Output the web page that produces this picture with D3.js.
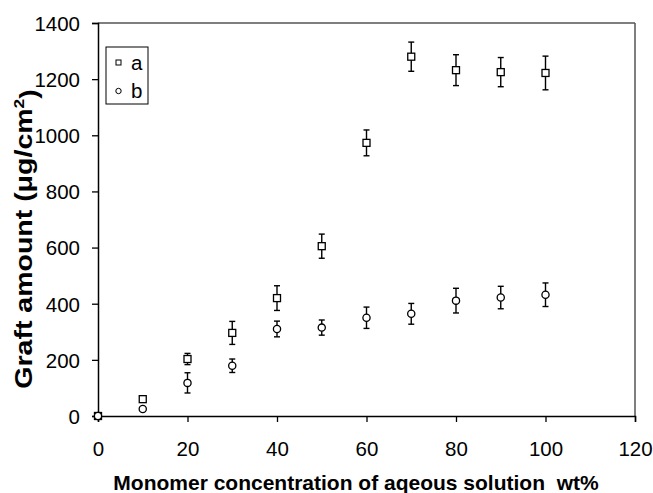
<!DOCTYPE html>
<html>
<head>
<meta charset="utf-8">
<script src="https://cdn.jsdelivr.net/npm/d3@7"></script>
<style>
  body { margin: 0; background: #fff; }
  svg text { font-family: "Liberation Sans", Arial, sans-serif; }
</style>
</head>
<body>
<div id="chart"></div>
<script>
// data
const concentrations = [0, 10, 20, 30, 40, 50, 60, 70, 80, 90, 100];
const graftA = [0, 60, 203, 296, 420, 605, 973, 1280, 1232, 1225, 1222];
const errA   = [0, 0, 20, 41, 44, 43, 46, 52, 55, 52, 60];
const graftB = [0, 25, 118, 179, 310, 315, 350, 364, 411, 422, 432];
const errB   = [0, 0, 36, 24, 28, 27, 38, 37, 44, 40, 42];
const xTicks = [0, 20, 40, 60, 80, 100, 120];
const yTicks = [0, 200, 400, 600, 800, 1000, 1200, 1400];

const svg_width = 653;
const svg_height = 493;
const plotLeft = 98, plotRight = 635, plotTop = 23, plotBottom = 416;

let svg = d3.select("#chart")
  .append("svg")
    .attr("width", svg_width)
    .attr("height", svg_height)

const x = d3.scaleLinear().domain([0, 120]).range([plotLeft, plotRight]);
const y = d3.scaleLinear().domain([0, 1400]).range([plotBottom, plotTop]);

// frame: top and right in grey
svg.append("line")
    .attr("x1", plotLeft).attr("x2", plotRight).attr("y1", plotTop).attr("y2", plotTop)
    .attr("stroke", "#555").attr("stroke-width", 1.5)
svg.append("line")
    .attr("x1", plotRight).attr("x2", plotRight).attr("y1", plotTop).attr("y2", plotBottom)
    .attr("stroke", "#555").attr("stroke-width", 1.5)

// axes
let xAxis = svg.append("g")
    .attr("transform", "translate(0," + plotBottom + ")")
    .call(d3.axisBottom(x).tickValues(xTicks).tickSize(6).tickPadding(19).tickFormat(d3.format("d")))
let yAxis = svg.append("g")
    .attr("transform", "translate(" + plotLeft + ",0)")
    .call(d3.axisLeft(y).tickValues(yTicks).tickSize(6).tickPadding(12).tickFormat(d3.format("d")))

for (let ax of [xAxis, yAxis]) {
    ax.select(".domain").attr("stroke", "#000").attr("stroke-width", 1.5)
    ax.selectAll(".tick line").attr("stroke", "#000").attr("stroke-width", 1.3)
    ax.selectAll(".tick text")
        .attr("fill", "#000")
        .style("font-size", "20.5px")
        .style("font-family", "'Liberation Sans', Arial, sans-serif")
}
yAxis.selectAll(".tick text").attr("dy", "0.36em")

// axis titles
svg.append("text")
    .attr("x", 356)
    .attr("y", 490)
    .attr("text-anchor", "middle")
    .style("font-size", "21px")
    .style("font-weight", "bold")
    .style("white-space", "pre")
    .text("Monomer concentration of aqeous solution  wt%")

// the original title is stretched along its length
let yTitle = svg.append("text")
    .attr("transform", "translate(32,239) rotate(-90) scale(1.24,1)")
    .attr("text-anchor", "middle")
    .style("font-size", "23px")
    .style("font-weight", "bold")
yTitle.append("tspan").text("Graft amount (\u03bcg/cm")
yTitle.append("tspan").attr("dy", "-0.55em").style("font-size", "14px").text("2")
yTitle.append("tspan").attr("dy", "0.55em").text(")")

// error bars
function drawErrors(vals, errs) {
    for (let i = 0; i < concentrations.length; i++) {
        if (errs[i] === 0) continue;
        let cx = x(concentrations[i]);
        let y1 = y(vals[i] + errs[i]), y2 = y(vals[i] - errs[i]);
        let g = svg.append("g").attr("stroke", "#000").attr("stroke-width", 1.4)
        g.append("line").attr("x1", cx).attr("x2", cx).attr("y1", y1).attr("y2", y2)
        g.append("line").attr("x1", cx - 3).attr("x2", cx + 3).attr("y1", y1).attr("y2", y1)
        g.append("line").attr("x1", cx - 3).attr("x2", cx + 3).attr("y1", y2).attr("y2", y2)
    }
}
drawErrors(graftA, errA);
drawErrors(graftB, errB);

// series a: squares
svg.selectAll(".ptA")
    .data(concentrations)
    .enter()
    .append("rect")
    .attr("x", (d) => x(d) - 3.5)
    .attr("y", (d, i) => y(graftA[i]) - 3.5)
    .attr("width", 7)
    .attr("height", 7)
    .attr("fill", "#fff")
    .attr("stroke", "#000")
    .attr("stroke-width", 1.3)

// series b: circles
svg.selectAll(".ptB")
    .data(concentrations)
    .enter()
    .append("circle")
    .attr("cx", (d) => x(d))
    .attr("cy", (d, i) => y(graftB[i]))
    .attr("r", 3.6)
    .attr("fill", "#fff")
    .attr("stroke", "#000")
    .attr("stroke-width", 1.3)

// legend
let legend = svg.append("g")
legend.append("rect")
    .attr("x", 106).attr("y", 47).attr("width", 42).attr("height", 57)
    .attr("fill", "#fff").attr("stroke", "#000").attr("stroke-width", 1)
legend.append("rect")
    .attr("x", 116).attr("y", 60).attr("width", 5).attr("height", 5)
    .attr("fill", "#fff").attr("stroke", "#000").attr("stroke-width", 1)
legend.append("circle")
    .attr("cx", 118.5).attr("cy", 91).attr("r", 2.7)
    .attr("fill", "#fff").attr("stroke", "#000").attr("stroke-width", 1)
legend.append("text").attr("x", 131).attr("y", 70).style("font-size", "20.5px").text("a")
legend.append("text").attr("x", 131).attr("y", 98).style("font-size", "20.5px").text("b")
</script>
</body>
</html>
